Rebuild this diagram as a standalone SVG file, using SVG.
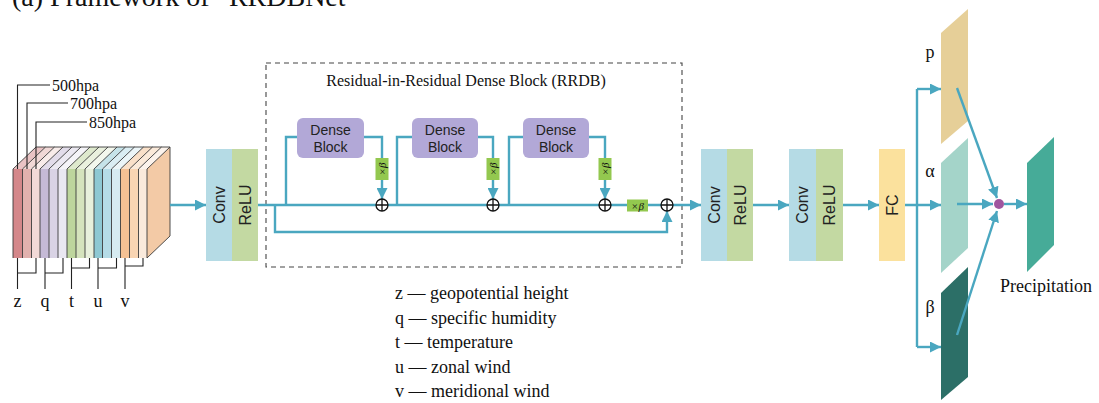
<svg xmlns="http://www.w3.org/2000/svg" width="1099" height="403" viewBox="0 0 1099 403">
<defs>
<style>
.serif{font-family:"Liberation Serif","Times New Roman",serif;fill:#111}
.sans{font-family:"Liberation Sans",Arial,sans-serif;fill:#222}
.conn{fill:none;stroke:#4aa7c0;stroke-width:2.4}
.blk{stroke:none}
.sep{stroke:#3a3a3a;stroke-width:0.9;fill:none}
.lead{stroke:#222;stroke-width:1.1;fill:none}
.xb{fill:#93c84f}
.dense{fill:#b2a8d7}
.plus{fill:#fff;stroke:#111;stroke-width:1.3}
</style>
<marker id="ah" viewBox="0 0 10 10" refX="10" refY="5" markerWidth="11" markerHeight="11" markerUnits="userSpaceOnUse" orient="auto">
<path d="M0,0 L10,5 L0,10 z" fill="#4aa7c0"/>
</marker>
</defs>
<rect width="1099" height="403" fill="#fff"/>

<text class="serif" x="12" y="6" font-size="28">(a) Framework of “RRDBNet”</text>

<!-- input stack -->
<g id="input-stack">
<g class="blk">
<polygon points="13,169 22.5,169 45.5,147 36,147" fill="#e9c3c4"/>
<polygon points="22.5,169 31.5,169 54.5,147 45.5,147" fill="#f0d8d6"/>
<polygon points="31.5,169 40,169 63,147 54.5,147" fill="#f8ecea"/>
<polygon points="40,169 49,169 72,147 63,147" fill="#e2dcea"/>
<polygon points="49,169 58,169 81,147 72,147" fill="#ece9f2"/>
<polygon points="58,169 67,169 90,147 81,147" fill="#f5f4f8"/>
<polygon points="67,169 76,169 99,147 90,147" fill="#dee9cd"/>
<polygon points="76,169 85,169 108,147 99,147" fill="#eaf1de"/>
<polygon points="85,169 94,169 117,147 108,147" fill="#f3f7ed"/>
<polygon points="94,169 102.5,169 125.5,147 117,147" fill="#c6e3e9"/>
<polygon points="102.5,169 111.5,169 134.5,147 125.5,147" fill="#daedf3"/>
<polygon points="111.5,169 120.5,169 143.5,147 134.5,147" fill="#ebf5f8"/>
<polygon points="120.5,169 129.5,169 152.5,147 143.5,147" fill="#f9e0c9"/>
<polygon points="129.5,169 138.5,169 161.5,147 152.5,147" fill="#fbeada"/>
<polygon points="138.5,169 147,169 170,147 161.5,147" fill="#fcf3ec"/>
<rect x="13" y="169" width="9.5" height="89" fill="#d4878a"/>
<rect x="22.5" y="169" width="9" height="89" fill="#e2b1ae"/>
<rect x="31.5" y="169" width="8.5" height="89" fill="#f2d9d7"/>
<rect x="40" y="169" width="9" height="89" fill="#c5bad6"/>
<rect x="49" y="169" width="9" height="89" fill="#d9d3e5"/>
<rect x="58" y="169" width="9" height="89" fill="#eae8f2"/>
<rect x="67" y="169" width="9" height="89" fill="#bdd59d"/>
<rect x="76" y="169" width="9" height="89" fill="#d5e3bd"/>
<rect x="85" y="169" width="9" height="89" fill="#e8f0dc"/>
<rect x="94" y="169" width="8.5" height="89" fill="#8ec8d3"/>
<rect x="102.5" y="169" width="9" height="89" fill="#b5dce7"/>
<rect x="111.5" y="169" width="9" height="89" fill="#d6ebf1"/>
<rect x="120.5" y="169" width="9" height="89" fill="#f4c194"/>
<rect x="129.5" y="169" width="9" height="89" fill="#f9d5b3"/>
<rect x="138.5" y="169" width="8.5" height="89" fill="#faeadc"/>
<polygon points="147,169 170,147 170,236 147,258" fill="#f3caa6"/>
</g>
<path class="sep" d="M13,169 V258 M22.5,169 V258 M31.5,169 V258 M40,169 V258 M49,169 V258 M58,169 V258 M67,169 V258 M76,169 V258 M85,169 V258 M94,169 V258 M102.5,169 V258 M111.5,169 V258 M120.5,169 V258 M129.5,169 V258 M138.5,169 V258 M147,169 V258"/>
<path class="sep" d="M13,169 L36,147 M22.5,169 L45.5,147 M31.5,169 L54.5,147 M40,169 L63,147 M49,169 L72,147 M58,169 L81,147 M67,169 L90,147 M76,169 L99,147 M85,169 L108,147 M94,169 L117,147 M102.5,169 L125.5,147 M111.5,169 L134.5,147 M120.5,169 L143.5,147 M129.5,169 L152.5,147 M138.5,169 L161.5,147 M147,169 L170,147 V236 L147,258 M36,147 H170"/>
<path class="lead" d="M17.5,169 V85 H50 M27,169 V103 H68 M36,169 V122 H87"/>
<text class="serif" x="52" y="90.5" font-size="16">500hpa</text>
<text class="serif" x="70" y="108.5" font-size="16">700hpa</text>
<text class="serif" x="89" y="127.5" font-size="16">850hpa</text>
<path class="lead" d="M17.5,258 V289 M17.5,273 H36 V258 M45,258 V289 M45,273 H63 V258 M71.5,258 V289 M71.5,268 H89.5 V258 M98,258 V289 M98,268 H116.5 V258 M125,258 V289 M125,266 H143 V258"/>
<text class="serif" x="17.5" y="307" font-size="18" text-anchor="middle">z</text>
<text class="serif" x="45" y="307" font-size="18" text-anchor="middle">q</text>
<text class="serif" x="71.5" y="307" font-size="18" text-anchor="middle">t</text>
<text class="serif" x="98" y="307" font-size="18" text-anchor="middle">u</text>
<text class="serif" x="125" y="307" font-size="18" text-anchor="middle">v</text>
</g>

<!-- RRDB frame -->
<g id="rrdb-frame">
<rect x="266" y="63" width="416" height="204" fill="none" stroke="#444" stroke-width="1.1" stroke-dasharray="5,4"/>
<text class="serif" x="466" y="86" font-size="16" text-anchor="middle">Residual-in-Residual Dense Block (RRDB)</text>
</g>

<!-- right-side feature maps (below connectors) -->
<g id="p-map">
<polygon points="941,33 968,9 968,121 941,144" fill="#e6cf98"/>
<text class="serif" x="930" y="58" font-size="18" text-anchor="middle">p</text>
</g>
<g id="alpha-map">
<polygon points="941,163 968,138 968,248 941,273" fill="#a4d4c9"/>
<text class="serif" x="930" y="177" font-size="18" text-anchor="middle">α</text>
</g>
<g id="beta-map">
<polygon points="941,293 968,267 968,377 941,400" fill="#2c6f67"/>
<text class="serif" x="930" y="313" font-size="18" text-anchor="middle">β</text>
</g>
<g id="precipitation">
<polygon points="1027,163 1054,137 1054,245 1027,272" fill="#46ab98"/>
<text class="serif" x="1046" y="292" font-size="18" text-anchor="middle">Precipitation</text>
</g>

<!-- connectors -->
<g id="connectors">
<path class="conn" d="M170,205 H206" marker-end="url(#ah)"/>
<path class="conn" d="M258,205 H701" marker-end="url(#ah)"/>
<path class="conn" d="M275,205 V232 H667 V211" marker-end="url(#ah)"/>
<path class="conn" d="M286,205 V137 H297"/>
<path class="conn" d="M364,137 H382 V199" marker-end="url(#ah)"/>
<path class="conn" d="M397,205 V137 H412"/>
<path class="conn" d="M478,137 H493 V199" marker-end="url(#ah)"/>
<path class="conn" d="M509,205 V137 H523"/>
<path class="conn" d="M589,137 H605 V199" marker-end="url(#ah)"/>
<path class="conn" d="M753,205 H789" marker-end="url(#ah)"/>
<path class="conn" d="M843,205 H879" marker-end="url(#ah)"/>
<path class="conn" d="M905,205 H941" marker-end="url(#ah)"/>
<path class="conn" d="M917,89 V347"/>
<path class="conn" d="M917,89 H941" marker-end="url(#ah)"/>
<path class="conn" d="M917,347 H941" marker-end="url(#ah)"/>
<path class="conn" d="M957,88 L997,198" marker-end="url(#ah)"/>
<path class="conn" d="M957,204 H993" marker-end="url(#ah)"/>
<path class="conn" d="M957,335 L997,211" marker-end="url(#ah)"/>
<path class="conn" d="M1004,204 H1027" marker-end="url(#ah)"/>
</g>

<!-- nodes -->
<g id="conv-relu-1">
<rect x="206" y="149" width="26" height="112" fill="#b5dbe5"/>
<rect x="232" y="149" width="26" height="112" fill="#c3d9a2"/>
<text class="sans" transform="translate(219,205) rotate(-90)" font-size="16" text-anchor="middle" dominant-baseline="central">Conv</text>
<text class="sans" transform="translate(245,205) rotate(-90)" font-size="16" text-anchor="middle" dominant-baseline="central">ReLU</text>
</g>
<g id="dense-block-1">
<rect class="dense" x="297" y="118" width="67" height="40" rx="6"/>
<text class="sans" x="330.5" y="135" font-size="14" text-anchor="middle">Dense</text>
<text class="sans" x="330.5" y="152" font-size="14" text-anchor="middle">Block</text>
</g>
<g id="dense-block-2">
<rect class="dense" x="412" y="118" width="66" height="40" rx="6"/>
<text class="sans" x="445" y="135" font-size="14" text-anchor="middle">Dense</text>
<text class="sans" x="445" y="152" font-size="14" text-anchor="middle">Block</text>
</g>
<g id="dense-block-3">
<rect class="dense" x="523" y="118" width="66" height="40" rx="6"/>
<text class="sans" x="556" y="135" font-size="14" text-anchor="middle">Dense</text>
<text class="sans" x="556" y="152" font-size="14" text-anchor="middle">Block</text>
</g>
<g id="beta-scale-1">
<rect class="xb" x="375.5" y="158" width="13" height="22"/>
<text class="serif" transform="translate(382,169) rotate(-90)" font-size="11" text-anchor="middle" dominant-baseline="central" font-style="italic">×β</text>
</g>
<g id="beta-scale-2">
<rect class="xb" x="486.5" y="158" width="13" height="22"/>
<text class="serif" transform="translate(493,169) rotate(-90)" font-size="11" text-anchor="middle" dominant-baseline="central" font-style="italic">×β</text>
</g>
<g id="beta-scale-3">
<rect class="xb" x="598.5" y="158" width="13" height="22"/>
<text class="serif" transform="translate(605,169) rotate(-90)" font-size="11" text-anchor="middle" dominant-baseline="central" font-style="italic">×β</text>
</g>
<g id="beta-scale-4">
<rect class="xb" x="627" y="199.5" width="21" height="12"/>
<text class="serif" x="637.5" y="205.5" font-size="11" text-anchor="middle" dominant-baseline="central" font-style="italic">×β</text>
</g>
<g id="sum-1"><circle class="plus" cx="382" cy="205" r="6"/><path d="M376,205 H388 M382,199 V211" stroke="#111" stroke-width="1.3"/></g>
<g id="sum-2"><circle class="plus" cx="493" cy="205" r="6"/><path d="M487,205 H499 M493,199 V211" stroke="#111" stroke-width="1.3"/></g>
<g id="sum-3"><circle class="plus" cx="605" cy="205" r="6"/><path d="M599,205 H611 M605,199 V211" stroke="#111" stroke-width="1.3"/></g>
<g id="sum-4"><circle class="plus" cx="667" cy="205" r="6"/><path d="M661,205 H673 M667,199 V211" stroke="#111" stroke-width="1.3"/></g>
<g id="conv-relu-2">
<rect x="701" y="149" width="26" height="112" fill="#b5dbe5"/>
<rect x="727" y="149" width="26" height="112" fill="#c3d9a2"/>
<text class="sans" transform="translate(714,205) rotate(-90)" font-size="16" text-anchor="middle" dominant-baseline="central">Conv</text>
<text class="sans" transform="translate(740,205) rotate(-90)" font-size="16" text-anchor="middle" dominant-baseline="central">ReLU</text>
</g>
<g id="conv-relu-3">
<rect x="789" y="149" width="27" height="112" fill="#b5dbe5"/>
<rect x="816" y="149" width="27" height="112" fill="#c3d9a2"/>
<text class="sans" transform="translate(802.5,205) rotate(-90)" font-size="16" text-anchor="middle" dominant-baseline="central">Conv</text>
<text class="sans" transform="translate(829.5,205) rotate(-90)" font-size="16" text-anchor="middle" dominant-baseline="central">ReLU</text>
</g>
<g id="fc">
<rect x="879" y="149" width="26" height="112" fill="#fbe19d"/>
<text class="sans" transform="translate(892,205) rotate(-90)" font-size="16" text-anchor="middle" dominant-baseline="central">FC</text>
</g>
<g id="combine">
<circle cx="999" cy="204" r="5" fill="#a0569f"/>
</g>

<g id="legend">
<text class="serif" x="395" y="299" font-size="18">z — geopotential height</text>
<text class="serif" x="395" y="324" font-size="18">q — specific humidity</text>
<text class="serif" x="395" y="348" font-size="18">t — temperature</text>
<text class="serif" x="395" y="373" font-size="18">u — zonal wind</text>
<text class="serif" x="395" y="397" font-size="18">v — meridional wind</text>
</g>
</svg>
